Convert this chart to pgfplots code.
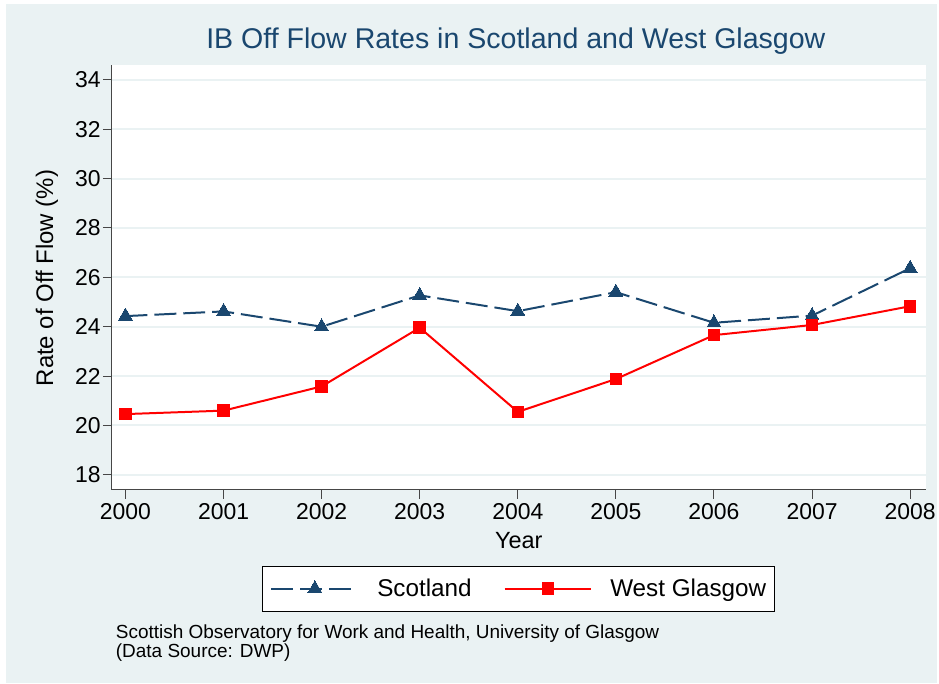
\documentclass[border=0pt]{standalone}
\usepackage{fontspec}
\setmainfont{Liberation Sans}
\usepackage{pgfplots}
\pgfplotsset{compat=1.18}
\definecolor{bgc}{RGB}{234,242,243}
\definecolor{navy}{RGB}{26,71,111}
\definecolor{axc}{RGB}{70,70,70}
\begin{document}
\begin{tikzpicture}
\fill[white] (0,0) rectangle (939pt,685pt);
\fill[bgc] (6pt,0) rectangle (939pt,681pt);
\begin{axis}[
  at={(112pt,194pt)}, anchor=south west,
  scale only axis, width=816pt, height=426pt,
  xmin=1999.86, xmax=2008.16, ymin=17.39, ymax=34.61,
  axis background/.style={fill=white},
  axis lines*=left,
  axis line style={-, axc, line width=1pt},
  xtick={2000,2001,2002,2003,2004,2005,2006,2007,2008},
  ytick={18,20,22,24,26,28,30,32,34},
  minor tick num=0,
  tick align=outside,
  major tick length=9pt,
  tick style={axc, line width=1pt},
  ymajorgrids,
  grid style={bgc, line width=2pt},
  /pgf/number format/assume math mode=true,
  /pgf/number format/1000 sep={},
  ticklabel style={font=\fontsize{23}{27}\selectfont},
  yticklabel style={inner xsep=2pt},
  xticklabel style={inner ysep=4pt},
  title={IB Off Flow Rates in Scotland and West Glasgow},
  title style={at={(axis description cs:0.4963,1.0235)}, anchor=base, font=\fontsize{28.6}{32}\selectfont, text=navy},
  xlabel={Year},
  xlabel style={at={(axis description cs:0.5,-0.1385)}, anchor=base, font=\fontsize{23.5}{27}\selectfont},
  ylabel={Rate of Off Flow (\%)},
  ylabel style={at={(axis description cs:-0.0797,0.4984)}, anchor=center, rotate=0, font=\fontsize{24}{27}\selectfont},
  legend columns=2,
  legend image code/.code={\draw[mark repeat=2,mark phase=2,#1] plot coordinates {(0pt,0pt) (43.5pt,0pt) (87pt,0pt)};
    \path[draw=none,fill=none] (106pt,0pt) circle[radius=0pt];},
  legend style={at={(axis description cs:0.4994,-0.2324)}, anchor=center, draw=black, line width=1pt, fill=white,
    font=\fontsize{24.3}{27}\selectfont, inner xsep=8pt, inner ysep=7pt,
    nodes={inner xsep=0pt, inner ysep=6pt},
    /tikz/every even column/.append style={column sep=32pt}},
]
\addplot[navy, line width=2pt, dash pattern=on 22pt off 7pt, mark=triangle*, mark size=8pt,
  mark options={solid, fill=navy, draw=navy, line width=0pt}]
  coordinates {(2000,24.43) (2001,24.62) (2002,24.0) (2003,25.27) (2004,24.63) (2005,25.4) (2006,24.16) (2007,24.45) (2008,26.37)};
\addlegendentry{Scotland}
\addplot[red, line width=2pt, mark=square*, mark size=5.8pt,
  mark options={solid, fill=red, draw=red, line width=0pt}]
  coordinates {(2000,20.46) (2001,20.6) (2002,21.58) (2003,23.96) (2004,20.55) (2005,21.88) (2006,23.66) (2007,24.07) (2008,24.83)};
\addlegendentry{West Glasgow\hspace{7pt}}
\end{axis}
\node[anchor=base west, inner sep=0pt, font=\fontsize{19}{20}\selectfont] at (116pt,45pt) {Scottish Observatory for Work and Health, University of Glasgow};
\node[anchor=base west, inner sep=0pt, font=\fontsize{19}{20}\selectfont] at (116pt,26pt) {(Data Source: DWP)};
\end{tikzpicture}
\end{document}
